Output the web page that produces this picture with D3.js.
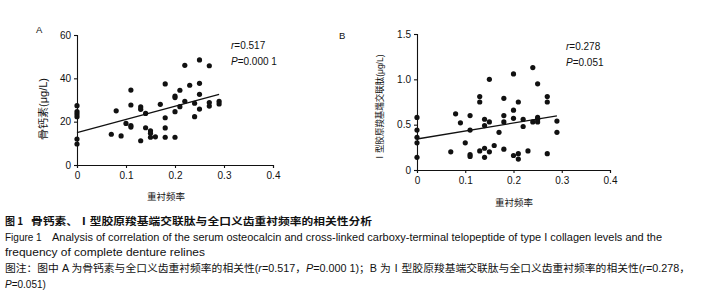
<!DOCTYPE html>
<html><head><meta charset="utf-8">
<script src="https://cdn.jsdelivr.net/npm/d3@7"></script>
<style>
html,body{margin:0;padding:0;background:#fff;}
text{font-family:"Liberation Sans",Arial,"Noto Sans CJK SC",sans-serif;fill:#111;white-space:pre;}
.cjk{font-family:"Noto Sans CJK SC","Liberation Sans",sans-serif;}
</style></head>
<body><svg id="c" width="706" height="305"></svg>
<script>
// ---------- data ----------
const xTicks = [0, 0.1, 0.2, 0.3, 0.4];
const yTicksA = [0, 20, 40, 60];
const yTicksB = [0, 0.5, 1.0, 1.5];
// Panel A: frequency of relines vs osteocalcin (μg/L)
const freqA = [0,0,0,0,0,0, 0.07,0.08,0.09,0.10, 0.11,0.11,0.11,0.11, 0.13,0.13,0.13, 0.14,0.14,
  0.15,0.15,0.15, 0.16, 0.17, 0.18,0.18,0.18,0.18, 0.20,0.20,0.20,0.20, 0.21,0.21, 0.22,0.22, 0.23,
  0.24,0.24, 0.25,0.25,0.25,0.25, 0.27,0.27,0.27, 0.29,0.29];
const osteoA = [27.4,24.6,23.5,22.3,12,9.7, 14.2,25,13.4,19.2, 34.6,27.7,18.2,17.5, 26.8,25.7,11.2, 23.8,17.2,
  15.8,14.6,12.8, 13, 28, 37.4,21.8,17.1,12.8, 31.8,31.1,24.6,12.8, 34.5,26.9, 46,29.4, 36.8,
  28.5,22.3, 48.5,37.7,32.6,25.8, 45.8,28.8,27.2, 29.4,28.2];
// Panel B: frequency of relines vs CTX-I (μg/L)
const freqB = [0,0,0,0,0, 0.07,0.08,0.09,0.10, 0.11,0.11,0.11,0.11, 0.13,0.13,0.13, 0.14,0.14,0.14,0.14,
  0.15,0.15,0.15, 0.16, 0.17, 0.18,0.18,0.18,0.18, 0.20,0.20,0.20,0.20, 0.21,0.21,0.21, 0.22,0.22, 0.23,
  0.24,0.24, 0.25,0.25,0.25,0.25, 0.27,0.27,0.27, 0.29,0.29];
const ctxB = [0.58,0.44,0.36,0.30,0.14, 0.20,0.62,0.52,0.30, 0.60,0.44,0.17,0.15, 0.81,0.75,0.21, 0.56,0.49,0.24,0.14,
  1.00,0.53,0.20, 0.27, 0.415, 0.79,0.60,0.53,0.23, 1.06,0.66,0.57,0.16, 0.75,0.18,0.12, 0.56,0.48, 0.21,
  1.13,0.53, 0.95,0.58,0.56,0.53, 0.81,0.75,0.18, 0.54,0.415];
const fitA = {intercept: 14.9, slope: 61, xMax: 0.29};
const fitB = {intercept: 0.342, slope: 0.88, xMax: 0.29};
const statsA = {r: "0.517", p: "0.000 1"};
const statsB = {r: "0.278", p: "0.051"};

const svg = d3.select("#c");
svg.append("rect").attr("width",706).attr("height",305).attr("fill","#fff");

function panel(o){
  const x = d3.scaleLinear().domain([0,0.4]).range([o.x0,o.x1]);
  const y = d3.scaleLinear().domain(o.yDomain).range([o.y0,o.y1]);
  const g = svg.append("g");
  const fmt = d => d===0 ? "0" : (o.yFmt ? o.yFmt(d) : d);
  const ya = g.append("g").attr("transform",`translate(${o.x0},0)`)
    .call(d3.axisLeft(y).tickValues(o.yTicks).tickSize(3).tickPadding(3).tickFormat(fmt));
  const xa = g.append("g").attr("transform",`translate(0,${o.y0})`)
    .call(d3.axisBottom(x).tickValues(xTicks).tickSize(3).tickPadding(o.xPad).tickFormat(d=> d===0?"0":d3.format(".1f")(d)));
  [ya,xa].forEach(a=>{
    a.selectAll("path,line").attr("stroke","#111").attr("stroke-width",1.1);
    a.selectAll("text").attr("font-size",10).attr("fill","#222")
      .style("font-family","'Liberation Sans',Arial,sans-serif");
  });
  // dots
  g.selectAll("circle.d").data(o.xs.map((v,i)=>[v,o.ys[i]])).join("circle")
    .attr("cx",d=>x(d[0])).attr("cy",d=>y(d[1])).attr("r",2.6).attr("fill","#111");
  // fit line
  g.append("line").attr("x1",x(0)).attr("y1",y(o.fit.intercept))
    .attr("x2",x(o.fit.xMax)).attr("y2",y(o.fit.intercept+o.fit.slope*o.fit.xMax))
    .attr("stroke","#111").attr("stroke-width",1.3);
  // stats
  const t1 = g.append("text").attr("x",o.sx).attr("y",o.sy).attr("font-size",10);
  t1.append("tspan").attr("font-style","italic").text("r");
  t1.append("tspan").text("=" + o.stats.r);
  const t2 = g.append("text").attr("x",o.sx).attr("y",o.sy+16.5).attr("font-size",10);
  t2.append("tspan").attr("font-style","italic").text("P");
  t2.append("tspan").text("=" + o.stats.p);
  // panel label
  g.append("text").attr("x",o.lx).attr("y",o.ly).attr("font-size",9.5).text(o.label);
  // axis titles
  g.append("text").attr("class","cjk").attr("x",o.xtx).attr("y",o.xty).attr("text-anchor","middle")
    .attr("font-size",9.5).attr("fill","#333").text("重衬频率");
  g.append("text").attr("transform",`translate(${o.ytx},${o.yty}) rotate(-90)`).attr("text-anchor","middle")
    .attr("font-size",o.ytSize).attr("fill","#333").attr("textLength",o.ytLen).attr("lengthAdjust","spacingAndGlyphs")
    .text(o.ytitle);
}

panel({x0:77,x1:273,y0:165,y1:35,yDomain:[0,60],yTicks:yTicksA,xPad:4,
  xs:freqA,ys:osteoA,fit:fitA,stats:statsA,sx:231,sy:48.5,label:"A",lx:36,ly:32.5,
  xtx:166,xty:200,ytx:47,yty:109,ytSize:10,ytLen:62,ytitle:"骨钙素(μg/L)"});
panel({x0:417,x1:610,y0:170,y1:34,yDomain:[0,1.5],yTicks:yTicksB,xPad:4,yFmt:d3.format(".1f"),
  xs:freqB,ys:ctxB,fit:fitB,stats:statsB,sx:566,sy:49.5,label:"B",lx:339,ly:38.5,
  xtx:514,xty:206,ytx:383,yty:108,ytSize:9,ytLen:107,ytitle:"Ⅰ型胶原羧基端交联肽(μg/L)"});

// ---------- caption ----------
const cap = svg.append("g");
cap.append("text").attr("x",5).attr("y",224.5).attr("font-size",10).attr("font-weight",700)
  .attr("class","cjk").text("图 1");
cap.append("text").attr("x",31).attr("y",224.5).attr("font-size",10).attr("font-weight",700)
  .attr("class","cjk").attr("textLength",341).attr("lengthAdjust","spacingAndGlyphs")
  .text("骨钙素、Ⅰ型胶原羧基端交联肽与全口义齿重衬频率的相关性分析");
cap.append("text").attr("x",5).attr("y",240.5).attr("font-size",10).text("Figure 1");
cap.append("text").attr("x",52).attr("y",240.5).attr("font-size",10).attr("textLength",610).attr("lengthAdjust","spacingAndGlyphs")
  .text("Analysis of correlation of the serum osteocalcin and cross-linked carboxy-terminal telopeptide of type I collagen levels and the");
cap.append("text").attr("x",5).attr("y",256).attr("font-size",10).attr("textLength",200).attr("lengthAdjust","spacingAndGlyphs")
  .text("frequency of complete denture relines");
const l4 = cap.append("text").attr("x",5).attr("y",272).attr("font-size",10).attr("textLength",685).attr("lengthAdjust","spacingAndGlyphs");
l4.append("tspan").text("图注：图中 A 为骨钙素与全口义齿重衬频率的相关性(");
l4.append("tspan").attr("font-style","italic").text("r");
l4.append("tspan").text("=" + statsA.r + "，");
l4.append("tspan").attr("font-style","italic").text("P");
l4.append("tspan").text("=" + statsA.p + ")；B 为Ⅰ型胶原羧基端交联肽与全口义齿重衬频率的相关性(");
l4.append("tspan").attr("font-style","italic").text("r");
l4.append("tspan").text("=" + statsB.r + "，");
const l5 = cap.append("text").attr("x",5).attr("y",287.5).attr("font-size",10);
l5.append("tspan").attr("font-style","italic").text("P");
l5.append("tspan").text("=" + statsB.p + ")");
</script></body></html>
